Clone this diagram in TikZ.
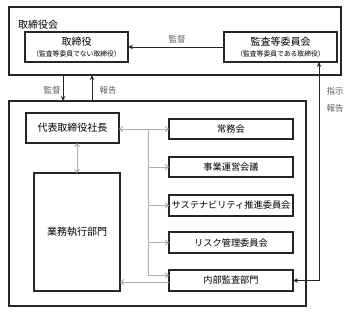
\documentclass[tikz,border=0pt]{standalone}
\usepackage{fontspec}
\setmainfont{Noto Sans CJK JP}
\usetikzlibrary{arrows.meta,calc}
\definecolor{lgray}{RGB}{175,175,175}
\definecolor{tgray}{RGB}{95,95,95}
\tikzset{
  gtip/.tip={Straight Barb[length=3pt,width=5pt]},
  btip/.tip={Stealth[length=5pt,width=4.5pt]},
  box/.style={draw=black!85,line width=1.3pt,rectangle,inner sep=0pt,outer sep=0pt,align=center},
  frame/.style={draw=black!85,line width=1.3pt,rectangle,inner sep=0pt,outer sep=0pt},
  blk/.style={line width=1pt,black!85},
  gry/.style={line width=1pt,lgray},
  lbl/.style={font=\fontsize{8.5}{9}\selectfont,text=tgray,inner sep=0pt},
  main/.style={font=\fontsize{10}{11}\selectfont},
  side/.style={font=\fontsize{9.2}{10}\selectfont},
  subt/.style={inner sep=0pt,font=\fontsize{6.8}{7}\selectfont},
}
\begin{document}
\begin{tikzpicture}[x=1pt,y=-1pt]
\useasboundingbox (0,0) rectangle (348,314);
% frames
\node[frame,minimum width=332pt,minimum height=68pt] (top) at (175,41) {};
\node[frame,minimum width=297pt,minimum height=205pt] (low) at (157.5,203.5) {};
\node[anchor=west,inner sep=0pt,font=\fontsize{10}{11}\selectfont] (tlabel) at (18,25) {取締役会};
% top boxes
\node[box,minimum width=103pt,minimum height=30pt] (tori) at (76.5,47) {};
\node[inner sep=0pt,main] (toriA) at (76.5,42) {取締役};
\node[subt] (toriB) at (76.5,54) {（監査等委員でない取締役）};
\node[box,minimum width=113pt,minimum height=30pt] (kansa) at (280.5,47) {};
\node[inner sep=0pt,main] (kansaA) at (280.5,42) {監査等委員会};
\node[subt] (kansaB) at (280.5,54) {（監査等委員である取締役）};
% lower boxes
\node[box,main,minimum width=93pt,minimum height=30pt] (pres) at (72.5,128) {代表取締役社長};
\node[box,main,minimum width=86pt,minimum height=118pt] (exec) at (77,232) {業務執行部門};
\node[box,side,minimum width=124pt,minimum height=20pt] (jomu) at (231,129) {常務会};
\node[box,side,minimum width=124pt,minimum height=20pt] (jigyo) at (231,167) {事業運営会議};
\node[box,side,minimum width=124pt,minimum height=21pt] (sus) at (231,205.5) {サステナビリティ推進委員会};
\node[box,side,minimum width=124pt,minimum height=21pt] (risk) at (231,242.5) {リスク管理委員会};
\node[box,side,minimum width=124pt,minimum height=21pt] (audit) at (231,280.5) {内部監査部門};
% black connectors
\draw[blk,-btip] (kansa.west) -- (tori.east);
\node[lbl] (l1) at (177,39) {監督};
\coordinate (dx) at (63,0);
\coordinate (ux) at (92,0);
\draw[blk,-btip] (top.south -| dx) -- (low.north -| dx);
\draw[blk,-btip] (low.north -| ux) -- (top.south -| ux);
\node[lbl] (l2) at (52,90) {監督};
\node[lbl] (l3) at (108,90) {報告};
\coordinate (rx) at (319,0);
\draw[blk,btip-btip] (kansa.south -| rx) -- (rx |- audit.east) -- (audit.east);
\node[lbl] (l4) at (335,91) {指示};
\node[lbl] (l5) at (335,108) {報告};
% gray connectors
\coordinate (vx) at (148,0);
\coordinate (ex) at (77,0);
\draw[gry,gtip-gtip] (pres.east |- jomu.west) -- (jomu.west);
\draw[gry] (vx |- jomu.west) -- ($(vx |- audit.west)+(0,-5)$);
\draw[gry,-gtip] (vx |- jigyo.west) -- (jigyo.west);
\draw[gry,-gtip] (vx |- sus.west) -- (sus.west);
\draw[gry,-gtip] (vx |- risk.west) -- (risk.west);
\draw[gry,-gtip] ($(vx |- audit.west)+(0,-5)$) -- ($(audit.west)+(0,-5)$);
\draw[gry,-gtip] ($(audit.west)+(0,1.5)$) -- ($(exec.east |- audit.west)+(0,1.5)$);
\draw[gry,gtip-gtip] (pres.south -| ex) -- (exec.north -| ex);
\end{tikzpicture}
\end{document}
